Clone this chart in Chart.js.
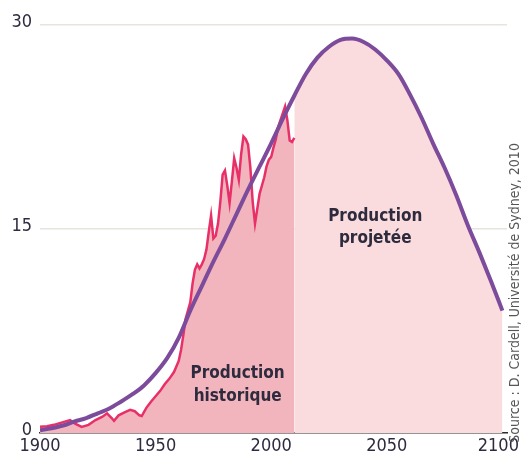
<!DOCTYPE html>
<html>
<head>
<meta charset="utf-8">
<script src="https://cdn.jsdelivr.net/npm/chart.js@4.4.0/dist/chart.umd.min.js"></script>
<style>
html, body { margin: 0; padding: 0; background: #fff; }
</style>
</head>
<body>
<canvas id="myChart" width="521" height="458"></canvas>
<script>
// Hubbert curve (historical + projected), every 5 years
var curveYears = [1900, 1905, 1910, 1915, 1920, 1925, 1930, 1935, 1940, 1945,
                  1950, 1955, 1960, 1965, 1970, 1975, 1980, 1985, 1990, 1995,
                  2000, 2005, 2010, 2015, 2020, 2025, 2030, 2035, 2040, 2045,
                  2050, 2055, 2060, 2065, 2070, 2075, 2080, 2085, 2090, 2095, 2100];
var curveValues = [0.2, 0.35, 0.55, 0.85, 1.1, 1.45, 1.8, 2.3, 2.85, 3.5,
                   4.4, 5.5, 7.0, 9.0, 10.8, 12.6, 14.3, 16.1, 17.9, 19.6,
                   21.3, 23.1, 24.8, 26.4, 27.6, 28.4, 28.9, 29.0, 28.75, 28.2,
                   27.4, 26.4, 24.9, 23.2, 21.3, 19.5, 17.5, 15.3, 13.3, 11.2, 9.0];

// historical production
var histYears = [1900, 1903, 1906, 1910, 1913, 1915, 1918, 1921, 1924, 1927,
                 1929, 1931, 1932, 1934, 1937, 1939, 1941, 1943, 1944, 1946,
                 1948, 1950, 1952, 1954, 1956, 1958, 1960, 1961, 1962, 1963,
                 1964, 1965, 1966, 1967, 1968, 1969, 1970, 1971, 1972, 1973,
                 1974, 1975, 1976, 1977, 1978, 1979, 1980, 1981, 1982, 1983,
                 1984, 1985, 1986, 1987, 1988, 1989, 1990, 1991, 1992, 1993,
                 1994, 1995, 1996, 1997, 1998, 1999, 2000, 2001, 2002, 2003,
                 2004, 2005, 2006, 2007, 2008, 2009, 2010];
var histValues = [0.45, 0.5, 0.6, 0.8, 0.95, 0.7, 0.45, 0.6, 0.95, 1.2,
                  1.45, 1.1, 0.9, 1.3, 1.55, 1.7, 1.6, 1.3, 1.25, 1.85,
                  2.3, 2.7, 3.1, 3.6, 4.0, 4.5, 5.3, 6.1, 7.2, 8.4,
                  9.0, 9.6, 11.0, 12.0, 12.4, 12.1, 12.4, 12.8, 13.5, 14.8,
                  16.0, 14.3, 14.5, 15.4, 17.0, 19.0, 19.3, 18.2, 16.9, 18.5,
                  20.2, 19.5, 18.6, 20.5, 21.8, 21.6, 21.2, 19.5, 17.0, 15.4,
                  16.5, 17.6, 18.2, 18.8, 19.6, 20.1, 20.3, 21.0, 21.6, 22.5,
                  23.0, 23.5, 24.0, 23.0, 21.5, 21.4, 21.7];

var projectionStart = 2010;
var yTicks = [0, 15, 30];
var xTicks = [1900, 1950, 2000, 2050, 2100];

var FONT = '"Liberation Sans Narrow", "DejaVu Sans Condensed", "Liberation Sans", sans-serif';

function toPoints(xs, ys) {
    return xs.map(function (x, i) { return { x: x, y: ys[i] }; });
}
var curvePoints = toPoints(curveYears, curveValues);
var projPoints = curvePoints.filter(function (p) { return p.x >= projectionStart; });
var histPoints = toPoints(histYears, histValues);

var labelsPlugin = {
    id: 'labels',
    afterDraw: function (chart) {
        var c = chart.ctx, sx = chart.scales.x, sy = chart.scales.y;
        c.save();
        c.fillStyle = '#2e2b3f';
        c.textAlign = 'center';
        c.textBaseline = 'middle';
        c.font = 'bold 17px ' + FONT;
        c.fillText('Production', sx.getPixelForValue(1985.5), sy.getPixelForValue(4.4));
        c.fillText('historique', sx.getPixelForValue(1985.5), sy.getPixelForValue(2.7));
        c.fillText('Production', sx.getPixelForValue(2045), sy.getPixelForValue(15.9));
        c.fillText('projetée', sx.getPixelForValue(2045), sy.getPixelForValue(14.3));
        c.fillStyle = '#555';
        c.font = '14px ' + FONT;
        c.translate(chart.width - 6, sy.getPixelForValue(10.3));
        c.rotate(-Math.PI / 2);
        c.fillText('Source : D. Cardell, Université de Sydney, 2010', 0, 0);
        c.restore();
    }
};

var ctx = document.getElementById('myChart').getContext('2d');
var myChart = new Chart(ctx, {
    type: 'line',
    data: {
        datasets: [{
            label: 'Courbe',
            data: curvePoints,
            borderColor: 'rgb(125, 75, 155)',
            borderWidth: 4,
            pointRadius: 0,
            fill: false,
            cubicInterpolationMode: 'monotone'
        }, {
            label: 'Production historique',
            data: histPoints,
            borderColor: 'rgb(232, 48, 104)',
            backgroundColor: 'rgb(243, 181, 189)',
            borderWidth: 2.5,
            pointRadius: 0,
            fill: 'origin',
            tension: 0
        }, {
            label: 'Production projetée',
            data: projPoints,
            borderWidth: 0,
            borderColor: 'rgba(0,0,0,0)',
            backgroundColor: 'rgb(250, 220, 222)',
            pointRadius: 0,
            fill: 'origin',
            cubicInterpolationMode: 'monotone'
        }]
    },
    options: {
        responsive: false,
        animation: false,
        layout: { padding: { top: 25, right: 14, left: 0, bottom: 0 } },
        plugins: {
            legend: { display: false },
            tooltip: { enabled: false }
        },
        scales: {
            x: {
                type: 'linear',
                min: 1900,
                max: 2102,
                afterBuildTicks: function (scale) {
                    scale.ticks = xTicks.map(function (v) { return { value: v }; });
                },
                afterFit: function (scale) {
                    scale.height = 25;
                    scale.paddingRight = 0;
                    scale.paddingLeft = 0;
                },
                grid: { display: false, drawTicks: false },
                border: { display: true, color: '#2b2b2b', width: 1.5 },
                ticks: {
                    color: '#2e2b3f',
                    font: { family: FONT, size: 18 },
                    padding: 3,
                    maxRotation: 0,
                    // last label nudged left so it stays on the page
                    callback: function (v) { return v === 2100 ? '2100\u2002' : String(v); }
                }
            },
            y: {
                min: 0,
                max: 30,
                afterBuildTicks: function (scale) {
                    scale.ticks = yTicks.map(function (v) { return { value: v }; });
                },
                afterFit: function (scale) {
                    scale.width = 40;
                    scale.paddingTop = 0;
                    scale.paddingBottom = 0;
                },
                grid: {
                    color: function (c) { return c.tick.value === 0 ? 'rgba(0,0,0,0)' : '#e6e4dd'; },
                    lineWidth: 1.5,
                    drawTicks: false
                },
                border: { display: false },
                ticks: {
                    color: '#2e2b3f',
                    font: { family: FONT, size: 18 },
                    padding: 8,
                    labelOffset: -3,
                    callback: function (v) { return String(v); }
                }
            }
        }
    },
    plugins: [labelsPlugin]
});
</script>
</body>
</html>
